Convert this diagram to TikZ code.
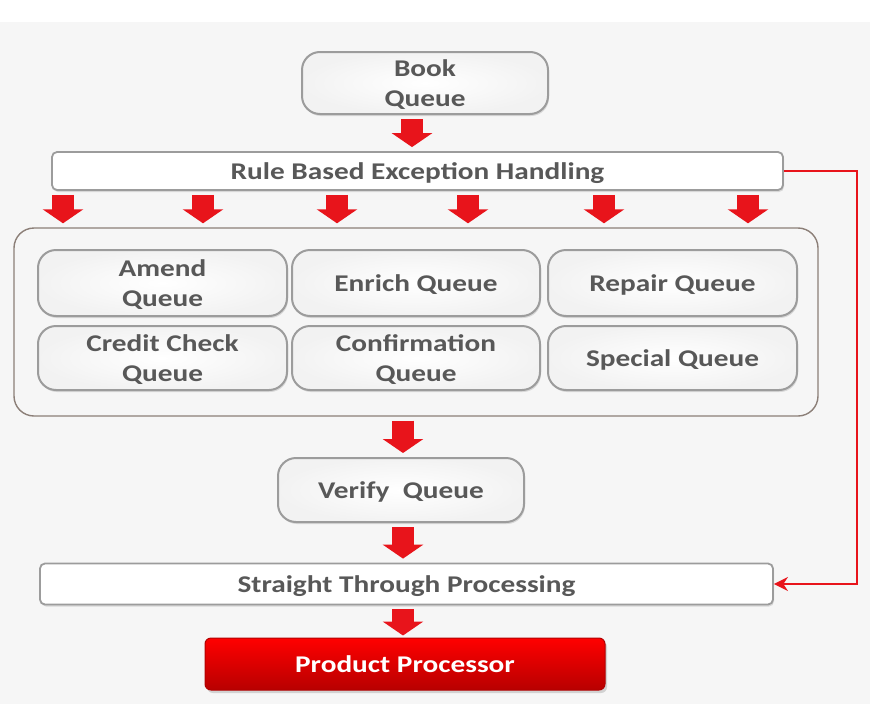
\documentclass[tikz,border=0pt]{standalone}
\usepackage{fontspec}
\setmainfont{Carlito}
\newfontfamily\diafont[FakeStretch=1.22]{Carlito}
\usetikzlibrary{arrows.meta,shadows}

\definecolor{txtgray}{HTML}{585858}
\definecolor{boxline}{HTML}{9C9C9C}
\definecolor{frameline}{HTML}{8C7F78}
\definecolor{flowred}{HTML}{E8141B}
\definecolor{bgcol}{HTML}{F6F6F6}

\tikzset{
  queue/.style={draw=boxline, line width=2pt, rounded corners=18pt, fill=white,
    inner color=white, outer color=gray!10,
    drop shadow={opacity=0.25, shadow xshift=1pt, shadow yshift=-2pt},
    text=txtgray, font=\diafont\fontsize{24}{30}\selectfont\bfseries, align=center,
    text depth=0pt},
  bar/.style={draw=boxline, line width=1.8pt, rounded corners=5pt, fill=white,
    drop shadow={opacity=0.25, shadow xshift=1pt, shadow yshift=-2pt},
    text=txtgray, font=\diafont\fontsize{24}{30}\selectfont\bfseries, text depth=0pt},
  blockarrow/.style={draw=flowred, line width=22pt, -{Triangle[length=14pt,width=40pt]},
    shorten <=4pt, shorten >=4pt},
}

\begin{document}
\begin{tikzpicture}[x=1pt,y=-1pt]
   \fill[bgcol] (0,0) rectangle (870,704);
   \fill[white] (0,0) rectangle (870,22);
   \useasboundingbox (0,0) rectangle (870,704);

   \node[queue, minimum width=246pt, minimum height=62pt] (book) at (425,83) {Book\\Queue};
   \node[bar, minimum width=731pt, minimum height=38pt] (rule) at (417.5,171) {Rule Based Exception Handling};

   % container of the work queues
   \node[draw=frameline, line width=1.4pt, rounded corners=20pt, fill=bgcol,
     minimum width=804pt, minimum height=188pt] (pool) at (416,322) {};

   \node[queue, minimum width=249pt, minimum height=66pt] (amend) at (162.5,283) {Amend\\Queue};
   \node[queue, minimum width=248pt, minimum height=66pt] (enrich) at (416,283) {Enrich Queue};
   \node[queue, minimum width=249pt, minimum height=66pt] (repair) at (672.5,283) {Repair Queue};
   \node[queue, minimum width=249pt, minimum height=64pt] (credit) at (162.5,358) {Credit Check\\Queue};
   \node[queue, minimum width=248pt, minimum height=64pt] (confirm) at (416,358) {Confirmation\\Queue};
   \node[queue, minimum width=249pt, minimum height=64pt] (special) at (672.5,358) {Special Queue};

   \node[queue, minimum width=246pt, minimum height=64pt] (verify) at (401,490) {Verify~ Queue};
   \node[bar, minimum width=733pt, minimum height=41pt] (stp) at (406.5,584) {Straight Through Processing};
   \node[draw=red!70!black, line width=1pt, rounded corners=6pt, minimum width=400pt, minimum height=52pt,
     top color=red, bottom color=red!72!black,
     drop shadow={opacity=0.3, shadow xshift=2pt, shadow yshift=-3pt},
     text=white, font=\diafont\fontsize{24}{30}\selectfont\bfseries, text depth=0pt] (product) at (405,664) {Product Processor};

   \draw[blockarrow] (book.south -| 412,0) -- (rule.north -| 412,0);
   \foreach \x in {63,203,337,468,604,748}
      \draw[blockarrow] (rule.south -| \x,0) -- (pool.north -| \x,0);
   \draw[blockarrow] (pool.south -| 403,0) -- (verify.north -| 403,0);
   \draw[blockarrow] (verify.south -| 403,0) -- (stp.north -| 403,0);
   \draw[blockarrow, shorten >=2pt] (stp.south -| 403,0) -- (product.north -| 403,0);

   % bypass from exception handling to STP
   \draw[flowred, line width=2.8pt, -{Stealth[length=14pt,width=14pt]}]
      (rule.east) -- (857,0 |- rule.east) -- (857,0 |- stp.east) -- (stp.east);
\end{tikzpicture}
\end{document}
